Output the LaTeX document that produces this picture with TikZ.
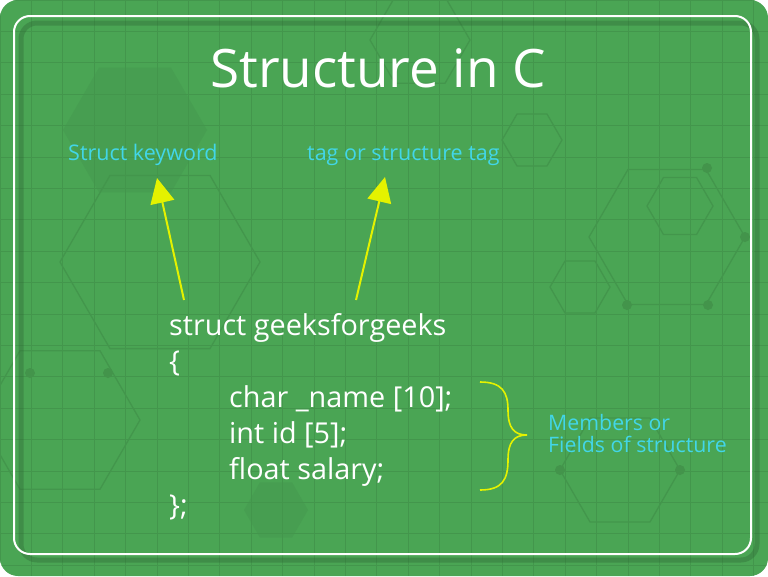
\documentclass[tikz,border=0pt]{standalone}
\usepackage{fontspec}
\setmainfont{Open Sans}
\usetikzlibrary{arrows.meta}
\definecolor{bggreen}{RGB}{74,165,84}
\definecolor{labelcyan}{RGB}{66,214,232}
\definecolor{arrowyellow}{RGB}{228,242,0}

\begin{document}
\begin{tikzpicture}[x=1pt, y=-1pt,
    titletext/.style={text=white, font=\fontsize{53}{60}\selectfont, anchor=base west, inner sep=0pt},
    labeltext/.style={text=labelcyan, font=\fontsize{21.5}{24}\selectfont, anchor=base west, inner sep=0pt},
    codeline/.style={text=white, font=\fontsize{28.8}{34}\selectfont, anchor=base west, inner sep=0pt},
    pointer/.style={arrowyellow, line width=2pt, -{Triangle[length=25pt, width=24pt]}},
    bracecurve/.style={arrowyellow, line width=1.6pt},
    gridline/.style={bggreen!91!black, line width=0.9pt},
    hexline/.style={bggreen!91!black, line width=1.3pt},
    hexfill/.style={fill=bggreen!96!black}]
    \useasboundingbox (0,0) rectangle (768,576);

    % background with faint hexagon pattern
    \fill[bggreen, rounded corners=18pt] (0,0) rectangle (768,576);
    \begin{scope}
        \clip[rounded corners=18pt] (0,0) rectangle (768,576);
        \fill[hexfill] (135,130) +(0:72) -- +(60:72) -- +(120:72) -- +(180:72) -- +(240:72) -- +(300:72) -- cycle;
        \fill[hexfill] (276,510) +(0:32) -- +(60:32) -- +(120:32) -- +(180:32) -- +(240:32) -- +(300:32) -- cycle;
        \foreach \g in {0,...,24} \draw[gridline] (\g*31.4,0) -- (\g*31.4,576);
        \foreach \g in {0,...,18} \draw[gridline] (0,\g*31.4) -- (768,\g*31.4);
        \foreach \cx/\cy/\r in {680/206/33, 532/140/30, 580/287/30, 160/262/100, 667/237/78, 60/420/80, 620/470/60, 420/40/50}
            \draw[hexline] (\cx,\cy) +(0:\r) -- +(60:\r) -- +(120:\r) -- +(180:\r) -- +(240:\r) -- +(300:\r) -- cycle;
        \foreach \dx/\dy in {707/168, 745/237, 708/305, 627/305, 30/373, 108/373, 560/470, 680/470}
            \fill[bggreen!90!black] (\dx,\dy) circle (5);
    \end{scope}

    % frame
    \draw[bggreen!60!black, opacity=0.35, line width=5pt, rounded corners=16pt] (21,23) rectangle (757,560);
    \draw[white, line width=2pt, rounded corners=16pt] (14,16) rectangle (751,554);

    \node[titletext] (title) at (210,87) {Structure in C};
    \node[labeltext] (kw) at (68,160) {Struct keyword};
    \node[labeltext] (tag) at (307,160) {tag or structure tag};

    \node[codeline] (head) at (169,335) {struct geeksforgeeks};
    \node[codeline] (open) at (169,371) {\{};
    \node[codeline] (name) at (229,407) {char \_name [10];};
    \node[codeline] (id) at (229,443) {int id [5];};
    \node[codeline] (salary) at (229,479) {float salary;};
    \node[codeline] (close) at (169,515) {\};};

    \node[labeltext, align=left, font=\fontsize{21.3}{22}\selectfont] (members) at (548,452) {Members or\\Fields of structure};

    \coordinate (kwfoot) at (184,300);
    \coordinate (kwtip) at (157,178);
    \coordinate (tagfoot) at (356,300);
    \coordinate (tagtip) at (385,177);
    \draw[pointer] (kwfoot) -- (kwtip);
    \draw[pointer] (tagfoot) -- (tagtip);

    \draw[bracecurve] (480,382) .. controls (502,382) and (508,392) .. (508,410)
        .. controls (508,428) and (514,435) .. (527,435)
        .. controls (514,435) and (508,442) .. (508,460)
        .. controls (508,480) and (502,490) .. (480,490);
\end{tikzpicture}
\end{document}
